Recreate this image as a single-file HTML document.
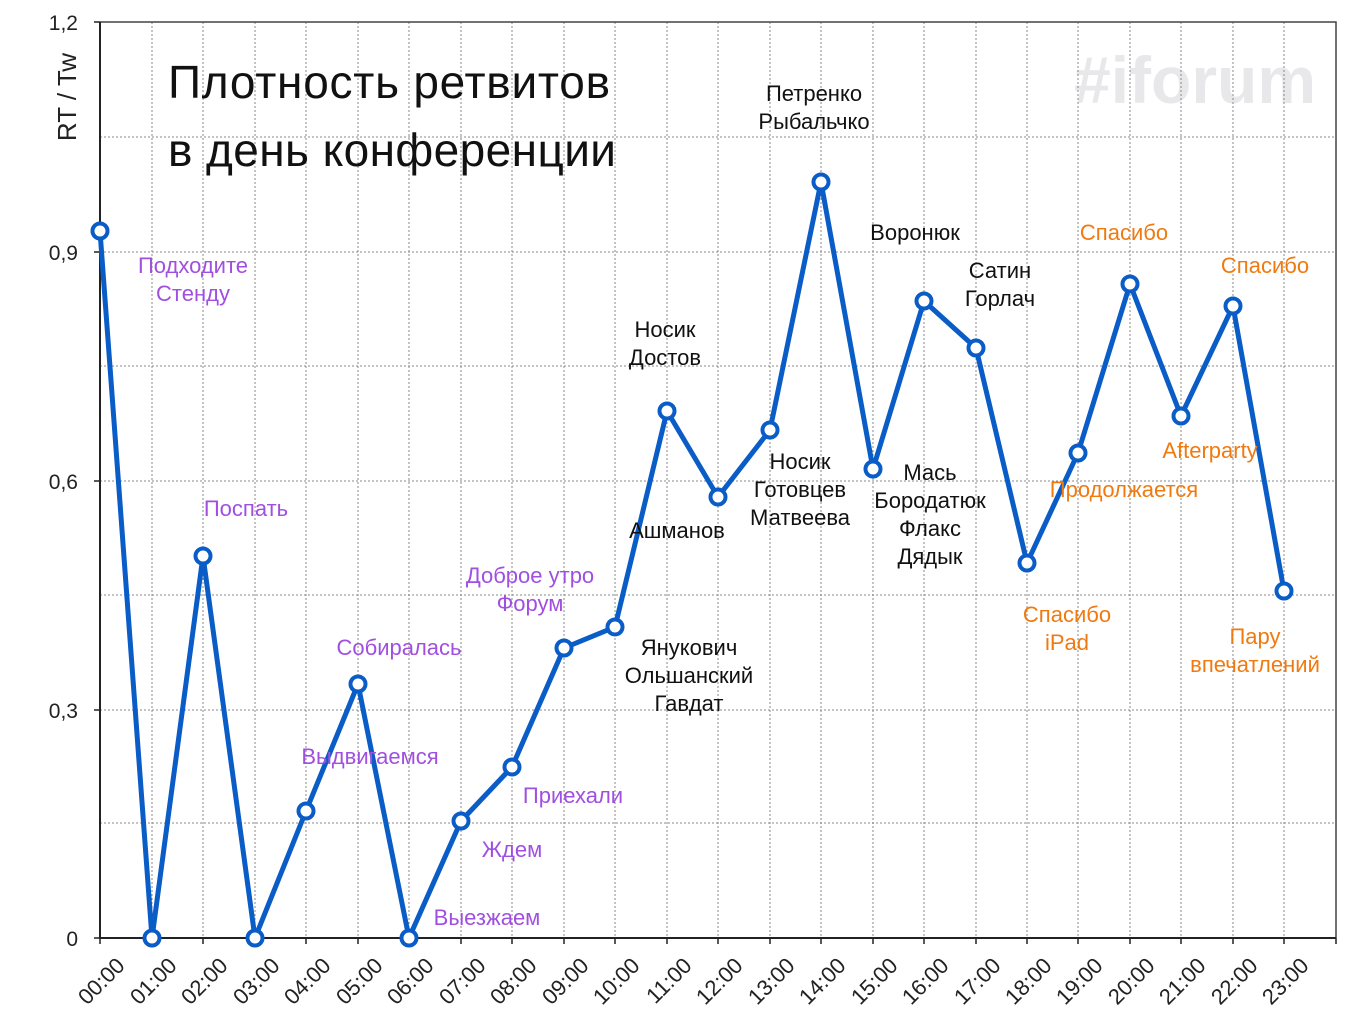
<!DOCTYPE html>
<html><head><meta charset="utf-8"><style>body{margin:0;background:#fff}svg{display:block}</style></head><body>
<svg width="1362" height="1023" xmlns="http://www.w3.org/2000/svg" font-family="'Liberation Sans','DejaVu Sans',sans-serif">
<rect width="1362" height="1023" fill="#fff"/>
<text x="1195" y="103" font-size="66" font-weight="bold" fill="#e8e8ea" text-anchor="middle">#iforum</text>
<g stroke="#888" stroke-width="1" stroke-dasharray="2,2" fill="none">
<path d="M100 137H1336M100 252H1336M100 366H1336M100 481H1336M100 595H1336M100 710H1336M100 823H1336"/>
<path d="M152 22V938M203 22V938M255 22V938M306 22V938M358 22V938M409 22V938M461 22V938M512 22V938M564 22V938M615 22V938M667 22V938M718 22V938M770 22V938M821 22V938M873 22V938M924 22V938M976 22V938M1027 22V938M1078 22V938M1130 22V938M1181 22V938M1233 22V938M1284 22V938"/>
</g>
<path d="M100 22H1336V938" stroke="#444" stroke-width="1.5" fill="none"/>
<path d="M100 22V938H1336" stroke="#222" stroke-width="2" fill="none"/>
<g stroke="#222" stroke-width="1.5">
<path d="M94 22H100M94 252H100M94 481H100M94 710H100M94 938H100"/>
<path d="M100 938v6M152 938v6M203 938v6M255 938v6M306 938v6M358 938v6M409 938v6M461 938v6M512 938v6M564 938v6M615 938v6M667 938v6M718 938v6M770 938v6M821 938v6M873 938v6M924 938v6M976 938v6M1027 938v6M1078 938v6M1130 938v6M1181 938v6M1233 938v6M1284 938v6M1336 938v6"/>
</g>
<g font-size="21" fill="#222" text-anchor="end">
<text x="78" y="30">1,2</text><text x="78" y="260">0,9</text><text x="78" y="489">0,6</text><text x="78" y="718">0,3</text><text x="78" y="946">0</text>
</g>
<text transform="translate(76,97) rotate(-90)" font-size="26" fill="#222" text-anchor="middle">RT / Tw</text>
<g font-size="22" fill="#222" text-anchor="end">
<text transform="translate(126,967) rotate(-45)">00:00</text><text transform="translate(178,967) rotate(-45)">01:00</text><text transform="translate(229,967) rotate(-45)">02:00</text><text transform="translate(281,967) rotate(-45)">03:00</text><text transform="translate(332,967) rotate(-45)">04:00</text><text transform="translate(384,967) rotate(-45)">05:00</text><text transform="translate(435,967) rotate(-45)">06:00</text><text transform="translate(487,967) rotate(-45)">07:00</text><text transform="translate(538,967) rotate(-45)">08:00</text><text transform="translate(590,967) rotate(-45)">09:00</text><text transform="translate(641,967) rotate(-45)">10:00</text><text transform="translate(693,967) rotate(-45)">11:00</text><text transform="translate(744,967) rotate(-45)">12:00</text><text transform="translate(796,967) rotate(-45)">13:00</text><text transform="translate(847,967) rotate(-45)">14:00</text><text transform="translate(899,967) rotate(-45)">15:00</text><text transform="translate(950,967) rotate(-45)">16:00</text><text transform="translate(1002,967) rotate(-45)">17:00</text><text transform="translate(1053,967) rotate(-45)">18:00</text><text transform="translate(1104,967) rotate(-45)">19:00</text><text transform="translate(1156,967) rotate(-45)">20:00</text><text transform="translate(1207,967) rotate(-45)">21:00</text><text transform="translate(1259,967) rotate(-45)">22:00</text><text transform="translate(1310,967) rotate(-45)">23:00</text>
</g>
<text x="168" y="98" font-size="46" fill="#111" textLength="442">Плотность ретвитов</text>
<text x="168" y="166" font-size="46" fill="#111" textLength="448">в день конференции</text>
<polyline fill="none" stroke="#0a5cc6" stroke-width="5" stroke-linejoin="round" points="100,231 152,938 203,556 255,938 306,811 358,684 409,938 461,821 512,767 564,648 615,627 667,411 718,497 770,430 821,182 873,469 924,301 976,348 1027,563 1078,453 1130,284 1181,416 1233,306 1284,591"/>
<g fill="#fff" stroke="#0a5cc6" stroke-width="4">
<circle cx="100" cy="231" r="7.5"/><circle cx="152" cy="938" r="7.5"/><circle cx="203" cy="556" r="7.5"/><circle cx="255" cy="938" r="7.5"/><circle cx="306" cy="811" r="7.5"/><circle cx="358" cy="684" r="7.5"/><circle cx="409" cy="938" r="7.5"/><circle cx="461" cy="821" r="7.5"/><circle cx="512" cy="767" r="7.5"/><circle cx="564" cy="648" r="7.5"/><circle cx="615" cy="627" r="7.5"/><circle cx="667" cy="411" r="7.5"/><circle cx="718" cy="497" r="7.5"/><circle cx="770" cy="430" r="7.5"/><circle cx="821" cy="182" r="7.5"/><circle cx="873" cy="469" r="7.5"/><circle cx="924" cy="301" r="7.5"/><circle cx="976" cy="348" r="7.5"/><circle cx="1027" cy="563" r="7.5"/><circle cx="1078" cy="453" r="7.5"/><circle cx="1130" cy="284" r="7.5"/><circle cx="1181" cy="416" r="7.5"/><circle cx="1233" cy="306" r="7.5"/><circle cx="1284" cy="591" r="7.5"/>
</g>
<g font-size="22" fill="#a04fe0" text-anchor="middle">
<text x="193" y="273">Подходите</text><text x="193" y="301">Стенду</text>
<text x="246" y="516">Поспать</text>
<text x="399" y="655">Собиралась</text>
<text x="370" y="764">Выдвигаемся</text>
<text x="487" y="925">Выезжаем</text>
<text x="512" y="857">Ждем</text>
<text x="573" y="803">Приехали</text>
<text x="530" y="583">Доброе утро</text><text x="530" y="611">Форум</text>
</g>
<g font-size="22" fill="#111" text-anchor="middle">
<text x="665" y="337">Носик</text><text x="665" y="365">Достов</text>
<text x="677" y="538">Ашманов</text>
<text x="689" y="655">Янукович</text><text x="689" y="683">Ольшанский</text><text x="689" y="711">Гавдат</text>
<text x="800" y="469">Носик</text><text x="800" y="497">Готовцев</text><text x="800" y="525">Матвеева</text>
<text x="814" y="101">Петренко</text><text x="814" y="129">Рыбальчко</text>
<text x="915" y="240">Воронюк</text>
<text x="930" y="480">Мась</text><text x="930" y="508">Бородатюк</text><text x="930" y="536">Флакс</text><text x="930" y="564">Дядык</text>
<text x="1000" y="278">Сатин</text><text x="1000" y="306">Горлач</text>
</g>
<g font-size="22" fill="#f07a10" text-anchor="middle">
<text x="1124" y="240">Спасибо</text>
<text x="1265" y="273">Спасибо</text>
<text x="1210" y="458">Afterparty</text>
<text x="1124" y="497">Продолжается</text>
<text x="1067" y="622">Спасибо</text><text x="1067" y="650">iPad</text>
<text x="1255" y="644">Пару</text><text x="1255" y="672">впечатлений</text>
</g>
</svg>
</body></html>
